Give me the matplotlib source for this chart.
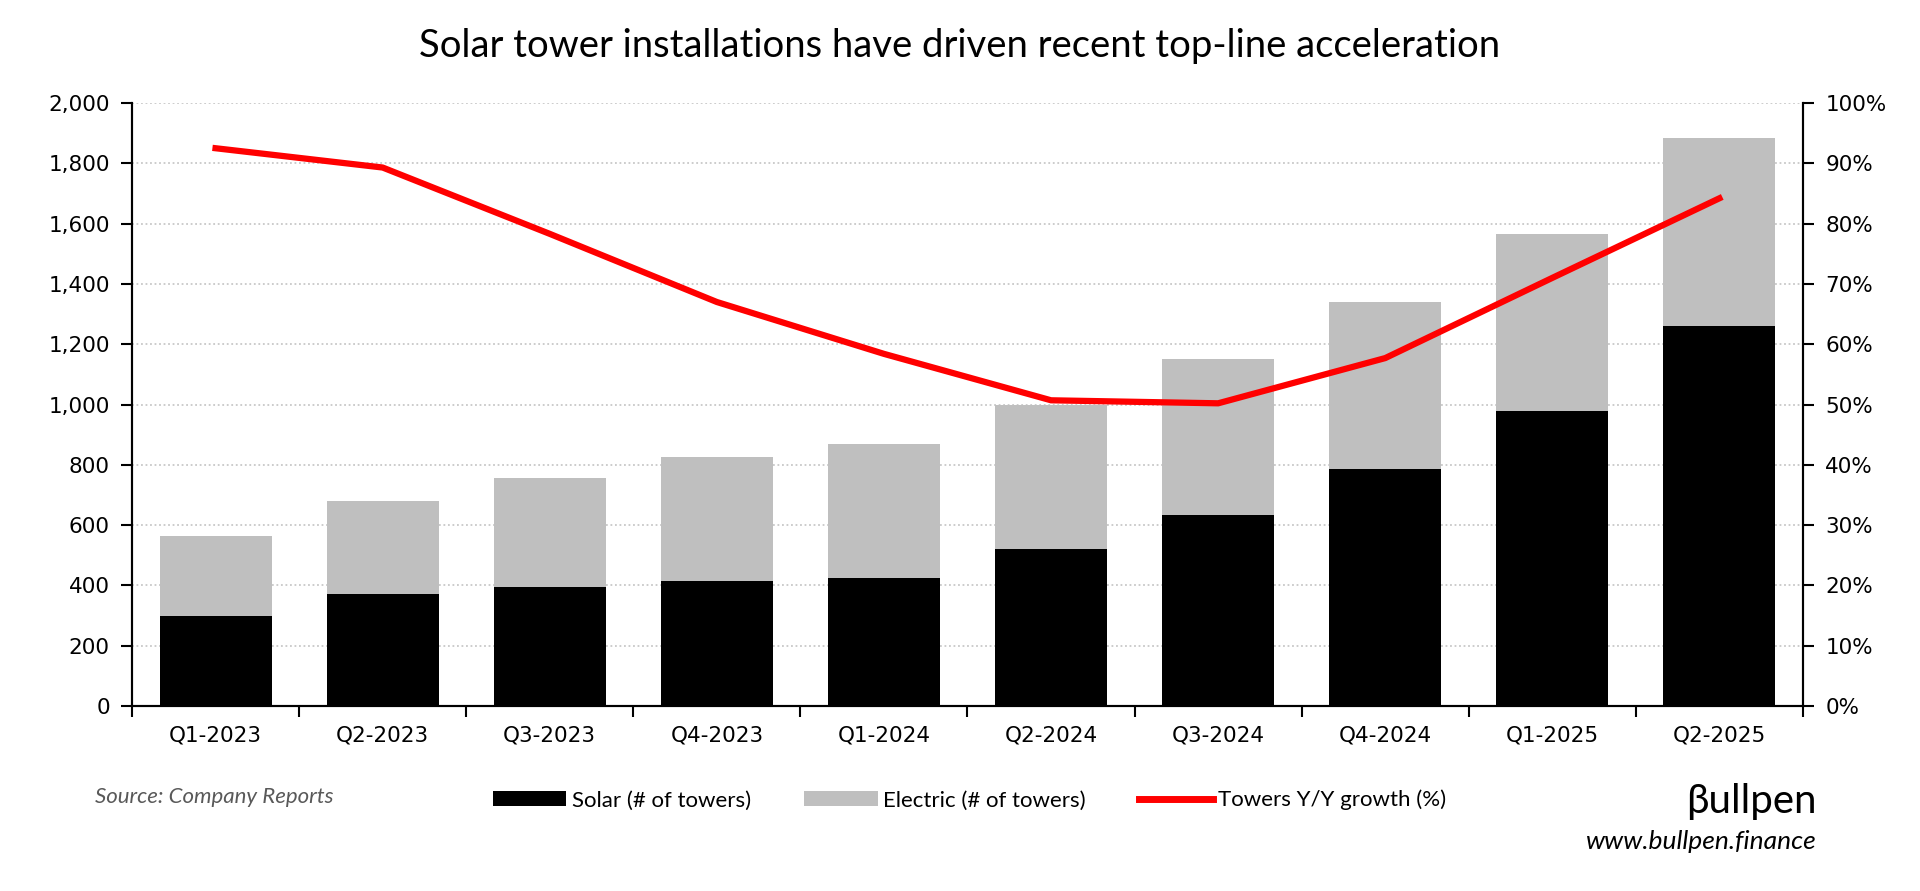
import matplotlib
matplotlib.use("Agg")
import matplotlib.pyplot as plt
from matplotlib.patches import Patch
from matplotlib.lines import Line2D
from matplotlib.ticker import FuncFormatter, MultipleLocator

quarters = ["Q1-2023", "Q2-2023", "Q3-2023", "Q4-2023", "Q1-2024",
            "Q2-2024", "Q3-2024", "Q4-2024", "Q1-2025", "Q2-2025"]
solar = [300, 370, 395, 415, 425, 520, 635, 785, 980, 1260]
electric = [265, 310, 360, 410, 445, 480, 515, 555, 585, 625]
growth = [92.5, 89.3, 78.3, 67.0, 58.4, 50.7, 50.2, 57.7, 71.0, 84.2]

txt_font = ["Lato", "DejaVu Sans"]
tick_font = "DejaVu Sans"

fig = plt.figure(figsize=(19.2, 8.91), dpi=100)
ax = fig.add_axes([0.06875, 0.2076, 0.8703, 0.6768])
ax2 = ax.twinx()

x = list(range(len(quarters)))
ax.bar(x, solar, width=0.67, color="black", zorder=2)
ax.bar(x, electric, width=0.67, bottom=solar, color="#bfbfbf", zorder=2)
ax2.plot(x, growth, color="#ff0000", linewidth=4.5, solid_joinstyle="round")

ax.set_xlim(-0.5, len(quarters) - 0.5)
ax.set_ylim(0, 2000)
ax2.set_ylim(0, 100)
ax.yaxis.set_major_locator(MultipleLocator(200))
ax2.yaxis.set_major_locator(MultipleLocator(10))
ax.yaxis.set_major_formatter(FuncFormatter(lambda v, p: f"{int(v):,}"))
ax2.yaxis.set_major_formatter(FuncFormatter(lambda v, p: f"{int(v)}%"))

ax.grid(axis="y", color="#c8c8c8", linestyle=(0, (1, 1.5)), linewidth=1.3, zorder=0)
ax.set_axisbelow(True)

ax.set_xticks(x)
ax.set_xticklabels(quarters)
ax.set_xticks([i - 0.5 for i in range(len(quarters) + 1)], minor=True)
ax.tick_params(axis="x", which="major", length=0, pad=14, labelsize=15.5)
ax.tick_params(axis="x", which="minor", length=8, width=1.5, direction="out")
ax.tick_params(axis="y", length=8, width=1.5, direction="out", pad=8, labelsize=15.5)
ax2.tick_params(axis="y", length=8, width=1.5, direction="out", pad=8, labelsize=15.5)
for lab in ax.get_xticklabels() + ax.get_yticklabels() + ax2.get_yticklabels():
    lab.set_fontfamily(tick_font)

for a in (ax, ax2):
    a.spines["top"].set_visible(False)
    for s in ("left", "right", "bottom"):
        a.spines[s].set_linewidth(1.5)
        a.spines[s].set_color("black")

fig.text(0.5, 0.948, "Solar tower installations have driven recent top-line acceleration",
         ha="center", va="center", fontsize=27.5, family=txt_font)

handles = [Patch(facecolor="black", label="Solar (# of towers)"),
           Patch(facecolor="#bfbfbf", label="Electric (# of towers)"),
           Line2D([0], [0], color="#ff0000", linewidth=5, label="Towers Y/Y growth (%)")]
fig.legend(handles=handles, loc="center", bbox_to_anchor=(0.505, 0.102), ncol=3,
           frameon=False, prop={"family": txt_font, "size": 16},
           handlelength=3.3, handleheight=0.68, handletextpad=0.25, columnspacing=2.4)

fig.text(0.0495, 0.106, "Source: Company Reports", ha="left", va="center",
         fontsize=16, style="italic", color="#595959", family=txt_font)
fig.text(0.946, 0.101, "\u03b2ullpen", ha="right", va="center",
         fontsize=29, color="black", family=txt_font)
fig.text(0.946, 0.055, "www.bullpen.finance", ha="right", va="center",
         fontsize=19, style="italic", color="black", family=txt_font)

fig.savefig("out.png", dpi=100)
